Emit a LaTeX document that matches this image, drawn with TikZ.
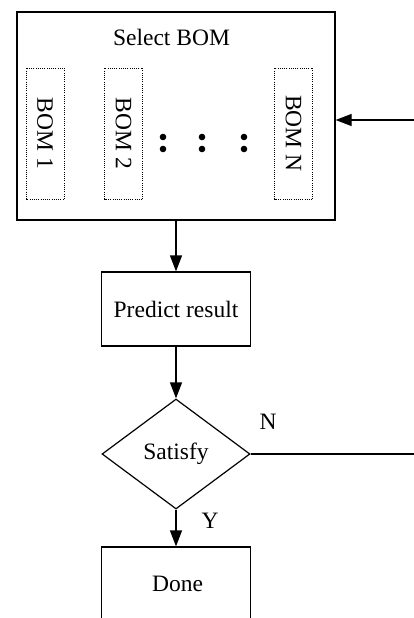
\documentclass[tikz,border=0pt]{standalone}
\usepackage{fontspec}
\setmainfont{Liberation Serif}
\usetikzlibrary{shapes.geometric,arrows.meta}

\begin{document}
\begin{tikzpicture}[x=1pt,y=-1pt,
  every node/.style={font=\fontsize{23.5}{28}\selectfont},
  box/.style={draw,line width=1.2pt,inner sep=0pt},
  bombox/.style={draw,line width=0.9pt,dash pattern=on 1pt off 1.2pt,
    rotate=-90,minimum width=131pt,minimum height=38pt,inner sep=0pt},
  arr/.style={line width=1.2pt,-{Triangle[length=16pt,width=12pt]}},
  conn/.style={line width=1.2pt},
  dot/.style={fill=black}]
\useasboundingbox (0,0) rectangle (414,618);
\clip (0,0) rectangle (414,618);

% outer selection block with the candidate BOMs
\node[box,minimum width=318pt,minimum height=208pt] (select) at (176,116) {};
\node[anchor=base] (title) at (171.5,46) {Select BOM};
\node[bombox] (bom1) at (45,133.5) {BOM 1};
\node[bombox] (bom2) at (123.5,133.5) {BOM 2};
\node[bombox] (bomn) at (293.5,133.5) {BOM N};
\foreach \x in {163,202,244}{
  \fill[dot] (\x,137) circle (3.3pt);
  \fill[dot] (\x,149) circle (3.3pt);
}

% flow below
\node[box,minimum width=149pt,minimum height=74pt] (predict) at (176,309) {Predict result};
\node[draw,diamond,line width=1.2pt,minimum width=148pt,minimum height=110pt,inner sep=0pt] (sat) at (176,454) {Satisfy};
\node[box,minimum width=149pt,minimum height=120pt] (done) at (176,607) {};
\node (donetxt) at (177.5,584) {Done};

\draw[arr] (select.south) -- (predict.north);
\draw[arr] (predict.south) -- (sat.north);
\draw[arr] (sat.south) -- (done.north);

% loop back when not satisfied
\coordinate (nout) at (414,454);
\coordinate (rin) at (414,120);
\draw[conn] (sat.east) -- (nout);
\draw[arr] (rin) -- (rin -| select.east);

\node (nlab) at (268,422) {N};
\node (ylab) at (210,521) {Y};
\end{tikzpicture}
\end{document}
